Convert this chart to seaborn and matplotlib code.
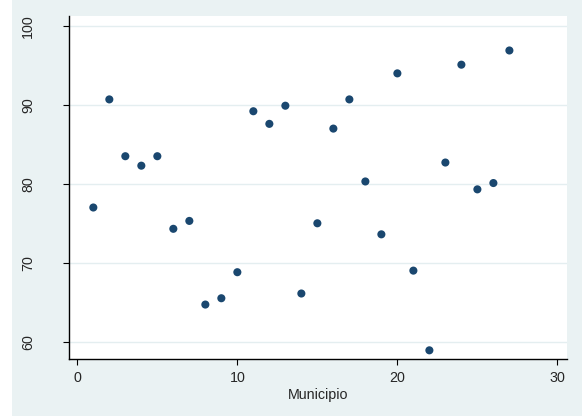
import matplotlib
matplotlib.use("Agg")
import matplotlib.pyplot as plt
import matplotlib.patches as mpatches
import seaborn as sns
import pandas as pd

# values
municipio = list(range(1, 28))
valor = [77.0, 90.7, 83.5, 82.3, 83.5, 74.3, 75.3, 64.7, 65.5, 68.8,
         89.2, 87.6, 89.9, 66.1, 75.0, 87.0, 90.7, 80.3, 73.6, 94.0,
         69.0, 58.9, 82.7, 95.1, 79.3, 80.1, 96.9]
x_ticks = [0, 10, 20, 30]
y_ticks = [60, 70, 80, 90, 100]

df = pd.DataFrame({"Municipio": municipio, "valor": valor})

sns.set_style("white")
plt.rcParams['font.family'] = ['Liberation Sans', 'DejaVu Sans']

bg = "#eaf2f3"
navy = "#1a476f"

fig = plt.figure(figsize=(5.82, 4.16), dpi=100)
fig.patch.set_facecolor("white")
# stata-like graph region (leaves a thin white strip on the left)
fig.patches.append(mpatches.Rectangle((12 / 582, 0), 1 - 12 / 582, 1, transform=fig.transFigure,
                                      facecolor=bg, edgecolor="none", zorder=-10))

ax = fig.add_axes([69 / 582, 1 - 359 / 416, (567 - 69) / 582, (359 - 16) / 416])
ax.set_facecolor("white")

sns.scatterplot(data=df, x="Municipio", y="valor", ax=ax, color=navy, s=34,
                edgecolor="none", zorder=3)

ax.set_xlim(-0.52, 30.6)
ax.set_ylim(57.8, 101.27)
ax.set_xticks(x_ticks)
ax.set_yticks(y_ticks)
ax.grid(axis="y", color="#e4eef0", lw=1)
ax.grid(axis="x", visible=False)

for s in ["top", "right"]:
    ax.spines[s].set_visible(False)
for s in ["left", "bottom"]:
    ax.spines[s].set_color("black")
    ax.spines[s].set_linewidth(1.0)

ax.tick_params(axis="x", length=4.5, width=0.8, color="black", pad=4, labelsize=10.3, bottom=True)
ax.tick_params(axis="y", length=4.5, width=0.8, color="black", pad=20, labelsize=10.3, left=True)
for lab in ax.get_yticklabels():
    lab.set_rotation(90)
    lab.set_va("center")

ax.set_xlabel("Municipio", fontsize=10.3, labelpad=2)
ax.set_ylabel("")

fig.savefig("out.png", dpi=100, facecolor=fig.get_facecolor())
